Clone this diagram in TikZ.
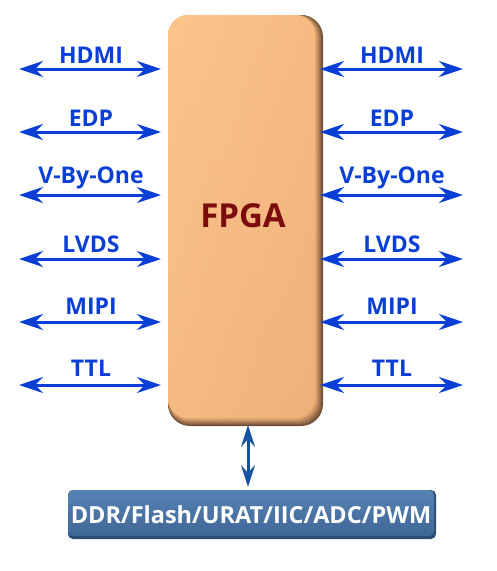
\documentclass[tikz,border=0pt]{standalone}
\usepackage{fontspec}
\setmainfont{Open Sans}
\usetikzlibrary{arrows.meta}
\definecolor{arrblue}{HTML}{0A3FD6}
\definecolor{vblue}{HTML}{1552A2}
\definecolor{fpgared}{HTML}{7A0C0C}
\definecolor{orlight}{HTML}{FBC58C}
\definecolor{ormid}{HTML}{F0B07A}
\definecolor{orshadow}{HTML}{6E4E34}
\definecolor{bxtop}{HTML}{5682B4}
\definecolor{bxbot}{HTML}{3F6796}
\definecolor{bxshadow}{HTML}{2E4B70}
\tikzset{
  tipH/.tip={Stealth[length=24pt,width=16pt,inset=8pt]},
  tipV/.tip={Stealth[length=22pt,width=14pt,inset=8pt]},
  link/.style={line width=3pt, arrblue, tipH-tipH},
  vlink/.style={line width=3pt, vblue, tipV-tipV},
  lbl/.style={anchor=base, font=\fontsize{23}{26}\selectfont\bfseries, text=arrblue, inner sep=0pt},
}
\begin{document}
\begin{tikzpicture}[x=1pt,y=-1pt]
\useasboundingbox (0,0) rectangle (496,571);
% FPGA box with bevel
\foreach \i in {0,...,8}{
  \pgfmathsetmacro{\pc}{100-\i*11}
  \fill[orshadow!\pc!ormid, rounded corners=22pt] (168,15) rectangle (323-\i*0.8,426-\i*0.8);
}
\shade[left color=orlight, right color=ormid, rounded corners=20pt] (168,15) rectangle (315,418);
\shade[top color=orlight, bottom color=ormid, opacity=0.5, rounded corners=20pt] (168,15) rectangle (315,418);
\node[font=\fontsize{33}{36}\selectfont\bfseries, text=fpgared] (fpga) at (243,216) {FPGA};
% left / right links
\foreach \name/\y/\off/\lab in {hdmi/69/6/HDMI, edp/132/6/EDP, vbo/195/12/V-By-One, lvds/259/7/LVDS, mipi/322/8/MIPI, ttl/385/9/TTL}{
  \coordinate (L\name a) at (19,\y);
  \coordinate (L\name b) at (161,\y);
  \coordinate (R\name a) at (320,\y);
  \coordinate (R\name b) at (463,\y);
  \draw[link] (L\name a) -- (L\name b);
  \draw[link] (R\name a) -- (R\name b);
  \node[lbl] (Ll\name) at (91,\y-\off) {\lab};
  \node[lbl] (Rl\name) at (392,\y-\off) {\lab};
}
% bottom box
\fill[bxshadow, rounded corners=5pt] (68,490) rectangle (436,539);
\shade[top color=bxtop, bottom color=bxbot, rounded corners=5pt] (68,490) rectangle (434,536);
\node[font=\fontsize{23.5}{26}\selectfont\bfseries, text=white] (bus) at (251,515) {DDR/Flash/URAT/IIC/ADC/PWM};
\coordinate (vt) at (248,425);
\coordinate (vb) at (248,487);
\draw[vlink] (vt) -- (vb);
\end{tikzpicture}
\end{document}
